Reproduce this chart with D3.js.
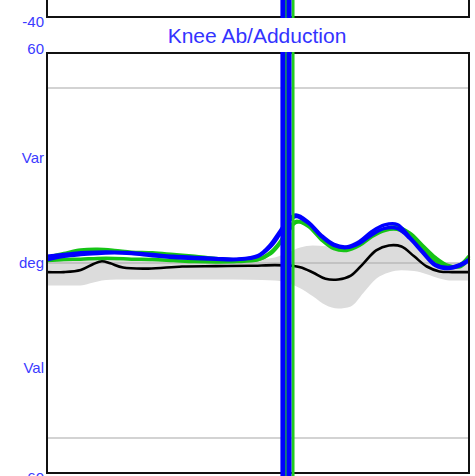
<!DOCTYPE html>
<meta charset="utf-8">
<style>
body { margin: 0; background: #fff; }
text { font-family: "Liberation Sans", Arial, sans-serif; }
.lbl { fill: #3b3bff; font-size: 15px; }
.title { fill: #3333ff; font-size: 21px; }
</style>
<svg width="475" height="476"></svg>
<script src="https://cdn.jsdelivr.net/npm/d3@7"></script>
<script>

// gait cycle (%) sample points
var normPct = [0,4,8,11,13,15,18,24,32,40,48,54,57,60,63,66,69,72,75,78,81,84,87,90,93,96,100];
var normMean = [-2.6,-2.6,-2.0,-0.3,0.5,-0.1,-1.3,-1.6,-1.0,-0.9,-0.8,-0.6,-0.7,-1.2,-2.7,-4.5,-4.7,-3.6,-0.1,3.6,5.0,4.7,1.9,-1.0,-2.4,-2.6,-2.6];
var normUpper = [0.5,0.7,1.0,1.2,1.3,1.1,0.7,0.9,1.0,1.0,0.9,1.6,2.9,4.4,5.0,4.8,4.8,5.5,7.5,9.6,10.4,10.0,8.2,4.0,0.6,0.1,0.1];
var normLower = [-6.4,-6.4,-6.4,-5.6,-5.0,-4.8,-4.7,-4.7,-4.7,-4.7,-4.8,-5.0,-5.7,-7.2,-9.5,-12.0,-13.0,-12.4,-8.5,-4.5,-2.7,-2.1,-2.3,-3.2,-4.4,-5.0,-5.0];

var trialPct = [0,4,8,12,16,20,25,30,35,40,45,50,53,55,57,59,62,65,68,71,74,77,80,83,86,89,92,95,98,100];
var green1 = [1.6,2.7,3.7,3.9,3.6,3.1,2.9,2.4,1.9,1.3,0.9,1.0,3.0,5.6,9.3,11.9,10.4,6.7,4.1,3.6,5.0,7.6,9.3,9.6,7.6,3.9,0.7,-1.3,-0.4,2.0];
var green2 = [0.7,1.0,1.1,1.3,1.3,1.1,1.0,0.7,0.4,0.3,0.4,1.0,2.7,5.3,8.7,11.6,11.0,7.6,5.0,4.1,5.3,7.9,9.6,10.3,8.5,5.0,1.6,-0.7,-1.0,1.3];
var blue1 = [1.9,2.4,2.9,3.1,3.1,2.9,2.4,1.9,1.6,1.3,1.1,2.1,5.3,8.7,12.1,13.7,11.6,7.9,5.3,4.6,6.1,9.0,10.9,11.0,7.3,3.3,-0.4,-1.3,-0.4,1.0];
var blue2 = [0.9,1.9,2.4,2.7,2.9,2.7,2.1,1.6,1.3,1.1,1.0,1.9,4.7,7.9,11.6,13.3,11.3,7.6,5.0,4.4,5.6,8.1,9.9,9.9,7.0,3.0,-0.7,-1.6,-0.7,0.7];

// toe-off events (%)
var greenEvents = [56.6, 58.3];
var blueEvents = [55.9, 57.35];

var tickValues = [60, 30, 0, -30, -60];
var tickLabels = ["60", "Var", "deg", "Val", "-60"];

var svg = d3.select("svg"),
    margin = {top: 53, right: 6, bottom: 3, left: 47},
    width = +svg.attr("width"),
    height = +svg.attr("height");

var x = d3.scaleLinear().domain([0, 100]).range([margin.left, width - margin.right]),
    y = d3.scaleLinear().domain([-60, 60]).range([height - margin.bottom, margin.top]);

var upperBottom = 17;

// grey norm band
var band = normPct.map(function(p, i) { return {p: p, lo: normLower[i], hi: normUpper[i]}; });
svg.append("path")
    .datum(band)
    .attr("fill", "#dcdcdc")
    .attr("d", d3.area()
      .curve(d3.curveMonotoneX)
      .x(function(d) { return x(d.p); })
      .y0(function(d) { return y(d.lo); })
      .y1(function(d) { return y(d.hi); }));

// grid lines
svg.selectAll(".grid")
    .data([50, -50])
  .enter().append("line")
    .attr("x1", x(0)).attr("x2", x(100))
    .attr("y1", function(d) { return y(d); })
    .attr("y2", function(d) { return y(d); })
    .attr("stroke", "#c4c4c4")
    .attr("stroke-width", 1.5);

svg.append("line")
    .attr("x1", x(0)).attr("x2", x(100))
    .attr("y1", y(0)).attr("y2", y(0))
    .attr("stroke", "#a8a8a8")
    .attr("stroke-width", 1.2);

var line = d3.line()
    .curve(d3.curveCatmullRom)
    .x(function(d) { return x(d[0]); })
    .y(function(d) { return y(d[1]); });

function drawSeries(pct, vals, color, w) {
  svg.append("path")
      .datum(pct.map(function(p, i) { return [p, vals[i]]; }))
      .attr("fill", "none")
      .attr("stroke", color)
      .attr("stroke-width", w)
      .attr("stroke-linejoin", "round")
      .attr("d", line);
}

drawSeries(normPct, normMean, "#000", 2.6);
drawSeries(trialPct, green2, "#16c416", 3.5);
drawSeries(trialPct, green1, "#16c416", 3.5);
drawSeries(trialPct, blue2, "#0000ff", 3.5);
drawSeries(trialPct, blue1, "#0000ff", 3.5);

// frames
svg.append("rect")
    .attr("x", x(0)).attr("y", y(60))
    .attr("width", x(100) - x(0)).attr("height", y(-60) - y(60))
    .attr("fill", "none").attr("stroke", "#111").attr("stroke-width", 2);

svg.append("path")
    .attr("d", "M" + x(0) + ",0V" + upperBottom + "H" + x(100) + "V0")
    .attr("fill", "none").attr("stroke", "#111").attr("stroke-width", 2);

// event lines in both panels
var panels = [[0, upperBottom + 1], [y(60) - 1, height]];
panels.forEach(function(pn) {
  svg.selectAll(null)
      .data(greenEvents)
    .enter().append("line")
      .attr("x1", function(d) { return x(d); })
      .attr("x2", function(d) { return x(d); })
      .attr("y1", pn[0]).attr("y2", pn[1])
      .attr("stroke", "#22cc22").attr("stroke-width", 3);
  svg.selectAll(null)
      .data(blueEvents)
    .enter().append("line")
      .attr("x1", function(d) { return x(d); })
      .attr("x2", function(d) { return x(d); })
      .attr("y1", pn[0]).attr("y2", pn[1])
      .attr("stroke", "#0000ff").attr("stroke-width", 5);
});

// y labels
var yAxis = svg.append("g")
    .attr("transform", "translate(" + (x(0) - 3) + ",0)")
    .call(d3.axisLeft(y).tickValues(tickValues).tickSize(0).tickPadding(0)
      .tickFormat(function(d, i) { return tickLabels[i]; }));
yAxis.select(".domain").remove();
yAxis.selectAll("text")
    .attr("class", "lbl")
    .attr("fill", null)
    .attr("font-family", null)
    .attr("font-size", null)
    .attr("dy", function(d) { return d === 60 ? "0.0em" : d === -60 ? "0.65em" : "0.32em"; });

svg.append("text")
    .attr("class", "lbl")
    .attr("text-anchor", "end")
    .attr("x", x(0) - 3)
    .attr("y", upperBottom + 10)
    .text("-40");

svg.append("text")
    .attr("class", "title")
    .attr("text-anchor", "middle")
    .attr("x", 257)
    .attr("y", 43)
    .text("Knee Ab/Adduction");

</script>
